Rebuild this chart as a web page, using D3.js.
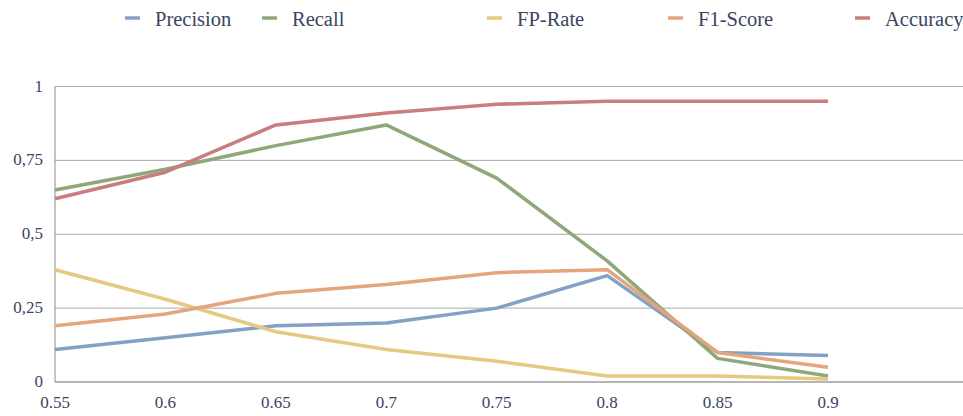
<!DOCTYPE html>
<html><head><meta charset="utf-8">
<script src="https://cdn.jsdelivr.net/npm/d3@7"></script>
<style>body{margin:0;background:#fff}svg{display:block}</style>
</head><body>
<svg id="c" width="963" height="416"></svg>
<script>
const thresholds = [0.55, 0.6, 0.65, 0.7, 0.75, 0.8, 0.85, 0.9];
const seriesNames = ["Precision", "Recall", "FP-Rate", "F1-Score", "Accuracy"];
const precision = [0.11, 0.15, 0.19, 0.20, 0.25, 0.36, 0.10, 0.09];
const recall    = [0.65, 0.72, 0.80, 0.87, 0.69, 0.41, 0.08, 0.02];
const fpRate    = [0.38, 0.28, 0.17, 0.11, 0.07, 0.02, 0.02, 0.01];
const f1Score   = [0.19, 0.23, 0.30, 0.33, 0.37, 0.38, 0.10, 0.05];
const accuracy  = [0.62, 0.71, 0.87, 0.91, 0.94, 0.95, 0.95, 0.95];
const yTicks = [0, 0.25, 0.5, 0.75, 1];
const yTickLabels = ["0", "0,25", "0,5", "0,75", "1"];

const colors = ["#84a0c6", "#8fa87a", "#e3ca80", "#e4a57c", "#c97d7d"];
const values = [precision, recall, fpRate, f1Score, accuracy];

const svg = d3.select("#c");
const font = "'Liberation Serif', serif";
const textColor = "#3a4560";
const plotLeft = 55, plotRight = 963, plotTop = 86.5, plotBottom = 382;

const x = d3.scaleLinear().domain([0.55, 0.9]).range([plotLeft, 828]);
const y = d3.scaleLinear().domain([0, 1]).range([plotBottom, plotTop]);

// gridlines
svg.append("g").selectAll("line").data(yTicks.filter(d => d > 0)).join("line")
  .attr("x1", plotLeft).attr("x2", plotRight)
  .attr("y1", d => y(d)).attr("y2", d => y(d))
  .attr("stroke", "#a8a8a8").attr("stroke-width", 1);

// axes lines
svg.append("line").attr("x1", plotLeft).attr("x2", plotRight).attr("y1", y(0)).attr("y2", y(0))
  .attr("stroke", "#6e6e6e").attr("stroke-width", 1.2);
svg.append("line").attr("x1", plotLeft).attr("x2", plotLeft).attr("y1", y(0)).attr("y2", y(1))
  .attr("stroke", "#8a8a8a").attr("stroke-width", 1);

// y labels
svg.append("g").selectAll("text").data(yTicks).join("text")
  .attr("x", 43).attr("y", d => y(d) + 5)
  .attr("text-anchor", "end").attr("font-family", font).attr("font-size", 17)
  .attr("fill", textColor).text((d, i) => yTickLabels[i]);

// x labels
svg.append("g").selectAll("text").data(thresholds).join("text")
  .attr("x", d => x(d)).attr("y", 408)
  .attr("text-anchor", "middle").attr("font-family", font).attr("font-size", 17)
  .attr("fill", textColor).text(d => String(d));

// lines
const line = d3.line().x((d, i) => x(thresholds[i])).y(d => y(d));
svg.append("g").selectAll("path").data(values).join("path")
  .attr("d", d => line(d)).attr("fill", "none")
  .attr("stroke", (d, i) => colors[i]).attr("stroke-width", 3.5)
  .attr("stroke-linejoin", "round");

// legend
const legendX = [125, 262, 487, 668, 855];
const lg = svg.append("g").selectAll("g").data(seriesNames).join("g")
  .attr("transform", (d, i) => `translate(${legendX[i]},18)`);
lg.append("line").attr("x1", 0).attr("x2", 15).attr("y1", 0).attr("y2", 0)
  .attr("stroke", (d, i) => colors[i]).attr("stroke-width", 3.5);
lg.append("text").attr("x", 30).attr("y", 7.5).attr("font-family", font).attr("font-size", 20.5)
  .attr("fill", textColor).text(d => d);
</script>
</body></html>
